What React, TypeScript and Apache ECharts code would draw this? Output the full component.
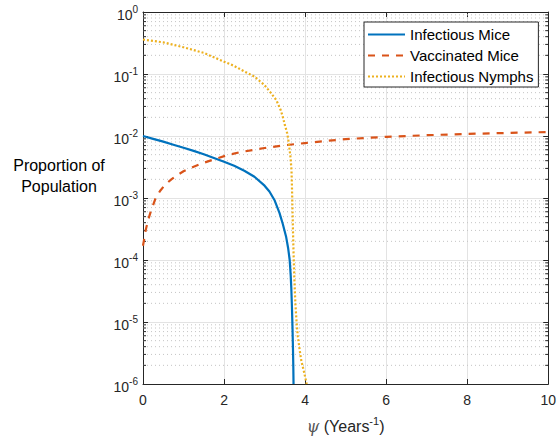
import React, { useEffect, useRef } from "react";
import * as echarts from "echarts";

// Infectious mice
const psiMice = [0, 0.25, 0.5, 0.75, 1.0, 1.25, 1.5, 1.75, 2.0, 2.25, 2.5, 2.75, 3.0, 3.12, 3.25, 3.37, 3.45, 3.53, 3.58, 3.62, 3.645, 3.66, 3.675, 3.69, 3.7, 3.71, 3.715];
const infectiousMice = [0.01, 0.009, 0.0081, 0.00724, 0.00646, 0.00575, 0.00507, 0.00442, 0.00385, 0.00331, 0.00275, 0.0022, 0.00158, 0.00127, 0.00091, 0.00057, 0.00038, 0.00024, 0.000158, 0.0001, 0.000056, 0.000035, 0.000018, 0.0000079, 0.000004, 0.0000018, 0.000001];

// Vaccinated mice
const psiVacc = [0, 0.03, 0.07, 0.13, 0.2, 0.3, 0.42, 0.55, 0.7, 0.85, 1.0, 1.25, 1.5, 1.8, 2.1, 2.4, 3.0, 3.5, 4.0, 4.5, 5.0, 6.0, 7.0, 8.0, 9.0, 10.0];
const vaccinatedMice = [0.00017, 0.00022, 0.00031, 0.00045, 0.00063, 0.00095, 0.0013, 0.00165, 0.002, 0.00235, 0.0027, 0.0032, 0.0037, 0.0043, 0.00495, 0.0055, 0.0064, 0.0071, 0.0077, 0.0083, 0.0089, 0.0097, 0.0103, 0.0108, 0.0112, 0.0116];

// Infectious nymphs
const psiNymph = [0, 0.5, 1.0, 1.5, 2.0, 2.25, 2.5, 2.75, 3.0, 3.15, 3.29, 3.4, 3.45, 3.5, 3.56, 3.6, 3.64, 3.665, 3.675, 3.69, 3.7, 3.715, 3.735, 3.76, 3.79, 3.82, 3.86, 3.9, 3.97, 4.04];
const infectiousNymphs = [0.36, 0.324, 0.27, 0.219, 0.158, 0.135, 0.11, 0.091, 0.066, 0.05, 0.038, 0.026, 0.0204, 0.0151, 0.011, 0.0076, 0.0045, 0.0028, 0.0016, 0.00063, 0.00032, 0.00013, 0.00005, 0.00002, 0.00001, 0.0000059, 0.0000038, 0.0000025, 0.0000016, 0.000001];

const seriesNames = ["Infectious Mice", "Vaccinated Mice", "Infectious Nymphs"];
const minorMultipliers = [2, 3, 4, 5, 6, 7, 8, 9];
const yMinExp = -6;
const yMaxExp = 0;

const zip = (xs: number[], ys: number[]) => xs.map((x, i) => [x, ys[i]]);

export default function App() {
  const ref = useRef<HTMLDivElement>(null);
  useEffect(() => {
    const chart = echarts.init(ref.current!, null, { renderer: "svg" });
    const minorValues: number[][] = [];
    for (let e = yMinExp; e < yMaxExp; e++) {
      for (const m of minorMultipliers) minorValues.push([0, m * Math.pow(10, e)]);
    }
    const axisColor = "#262626";
    const font = "Liberation Sans, Arial, sans-serif";
    const option: any = {
      animation: false,
      textStyle: { fontFamily: font },
      grid: { left: 143, right: 10, top: 12, bottom: 59 },
      legend: {
        data: seriesNames,
        orient: "vertical",
        left: 364,
        top: 22,
        padding: [5, 5, 3, 3],
        itemGap: 6,
        itemWidth: 37,
        itemHeight: 14,
        borderColor: axisColor,
        borderWidth: 1,
        backgroundColor: "#ffffff",
        itemStyle: { opacity: 0 },
        textStyle: { fontSize: 15, color: "#000", fontFamily: font },
      },
      xAxis: [
        {
          type: "value",
          min: 0,
          max: 10,
          interval: 2,
          position: "bottom",
          axisLine: { show: true, onZero: false, lineStyle: { color: axisColor, width: 1 } },
          axisTick: { show: true, inside: true, length: 5, lineStyle: { color: axisColor } },
          axisLabel: { fontSize: 14, color: axisColor, margin: 9, fontFamily: font },
          splitLine: { show: true, lineStyle: { color: "#e3e3e3", width: 1 } },
          name: "{i|ψ} (Years{s|-1})",
          nameLocation: "middle",
          nameGap: 31,
          nameTextStyle: {
            fontSize: 16,
            color: axisColor,
            lineHeight: 22,
            fontFamily: font,
            rich: {
              i: { fontFamily: "DejaVu Serif", fontStyle: "italic", fontSize: 16, lineHeight: 22, color: "#555" },
              s: { fontSize: 11, lineHeight: 12, verticalAlign: "top", color: axisColor, fontFamily: font },
            },
          },
        },
        {
          type: "value",
          min: 0,
          max: 10,
          interval: 2,
          position: "top",
          axisLine: { show: true, onZero: false, lineStyle: { color: axisColor, width: 1 } },
          axisTick: { show: true, inside: true, length: 5, lineStyle: { color: axisColor } },
          axisLabel: { show: false },
          splitLine: { show: false },
        },
      ],
      yAxis: [
        {
          type: "log",
          logBase: 10,
          min: Math.pow(10, yMinExp),
          max: Math.pow(10, yMaxExp),
          position: "left",
          axisLine: { show: true, onZero: false, lineStyle: { color: axisColor, width: 1 } },
          axisTick: { show: true, inside: true, length: 5, lineStyle: { color: axisColor } },
          splitLine: { show: true, lineStyle: { color: "#e3e3e3", width: 1 } },
          axisLabel: {
            margin: 5,
            padding: [5, 0, 0, 0],
            formatter: (v: number) => `{b|10}{s|${Math.round(Math.log10(v))}}`,
            rich: {
              b: { fontSize: 14, lineHeight: 20, color: axisColor, fontFamily: font },
              s: { fontSize: 10, lineHeight: 12, verticalAlign: "top", color: axisColor, fontFamily: font },
            },
          },
        },
        {
          type: "log",
          logBase: 10,
          min: Math.pow(10, yMinExp),
          max: Math.pow(10, yMaxExp),
          position: "right",
          axisLine: { show: true, onZero: false, lineStyle: { color: axisColor, width: 1 } },
          axisTick: { show: true, inside: true, length: 5, lineStyle: { color: axisColor } },
          splitLine: { show: false },
          axisLabel: { show: false },
        },
      ],
      graphic: [
        {
          type: "text",
          x: 59,
          y: 176,
          style: {
            text: "Proportion of\nPopulation",
            fontSize: 16,
            lineHeight: 21,
            fill: "#000",
            align: "center",
            verticalAlign: "middle",
            fontFamily: font,
          },
        },
      ],
      series: [
        {
          type: "custom",
          silent: true,
          xAxisIndex: 0,
          yAxisIndex: 0,
          z: 1,
          clip: false,
          data: minorValues,
          renderItem: (params: any, api: any) => {
            const v = api.value(1);
            const p0 = api.coord([0, v]);
            const p1 = api.coord([10, v]);
            return {
              type: "group",
              children: [
                {
                  type: "line",
                  shape: { x1: p0[0], y1: p0[1], x2: p1[0], y2: p1[1] },
                  style: { stroke: "#c4c4c4", lineWidth: 1, lineDash: [1, 3] },
                },
                {
                  type: "line",
                  shape: { x1: p0[0], y1: p0[1], x2: p0[0] + 3, y2: p0[1] },
                  style: { stroke: axisColor, lineWidth: 1 },
                },
                {
                  type: "line",
                  shape: { x1: p1[0] - 3, y1: p1[1], x2: p1[0], y2: p1[1] },
                  style: { stroke: axisColor, lineWidth: 1 },
                },
              ],
            };
          },
        },
        {
          name: seriesNames[0],
          type: "line",
          data: zip(psiMice, infectiousMice),
          showSymbol: false,
          symbol: "none",
          z: 3,
          lineStyle: { color: "#0072BD", width: 2.2, type: "solid", join: "round" },
          itemStyle: { color: "#0072BD" },
        },
        {
          name: seriesNames[1],
          type: "line",
          data: zip(psiVacc, vaccinatedMice),
          showSymbol: false,
          symbol: "none",
          z: 3,
          lineStyle: { color: "#D95319", width: 2.2, type: [7, 7], join: "round" },
          itemStyle: { color: "#D95319" },
        },
        {
          name: seriesNames[2],
          type: "line",
          data: zip(psiNymph, infectiousNymphs),
          showSymbol: false,
          symbol: "none",
          z: 3,
          lineStyle: { color: "#EDB120", width: 2.2, type: [2, 2], join: "round" },
          itemStyle: { color: "#EDB120" },
        },
      ],
    };
    chart.setOption(option);
    return () => chart.dispose();
  }, []);
  return (
    <div
      ref={ref}
      style={{ position: "fixed", left: 0, top: 0, width: 559, height: 443, background: "#fff" }}
    />
  );
}
